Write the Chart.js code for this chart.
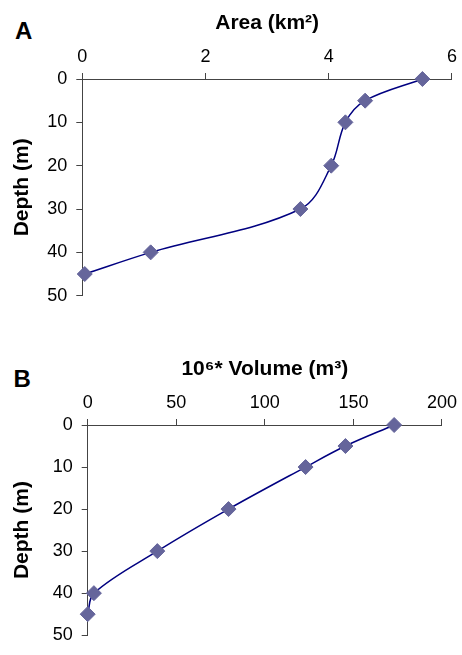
<!DOCTYPE html>
<html>
<head>
<meta charset="utf-8">
<script src="https://cdn.jsdelivr.net/npm/chart.js@4/dist/chart.umd.min.js"></script>
<style>
  body { margin: 0; background: #fff; width: 462px; height: 655px; position: relative; overflow: hidden; }
  canvas { position: absolute; left: 0; }
  #cA { top: 0; }
  #cB { top: 330px; }
  .panel { position: absolute; font: bold 24px "Liberation Sans", Arial, sans-serif; line-height: 1; color: #000; }
</style>
</head>
<body>
<div class="panel" style="left:15px; top:18.6px">A</div>
<div class="panel" style="left:13.5px; top:367px">B</div>
<canvas id="cA" width="462" height="320"></canvas>
<canvas id="cB" width="462" height="325"></canvas>
<script>
// depth of each survey level (m)
const depth = [0, 5, 10, 20, 30, 40, 45];
// lake area at each depth (km2)
const area = [5.52, 4.59, 4.27, 4.04, 3.54, 1.11, 0.04];
// volume below each depth (10^6 m3)
const volume = [173, 145.5, 123, 79.5, 39.3, 3.5, 0];

const depthTicks = [0, 50, 10];   // min, max, step
const areaTicks = [0, 6, 2];
const volumeTicks = [0, 200, 50];

Chart.defaults.font.family = '"Liberation Sans", Arial, sans-serif';
Chart.defaults.color = '#000';

const axisCol = '#444';

function makeChart(id, xs, xt, xTitle, box) {
  const pts = xs.map((v, i) => ({ x: v, y: depth[i] }));
  return new Chart(document.getElementById(id), {
    type: 'scatter',
    data: {
      datasets: [{
        data: pts,
        showLine: true,
        tension: 0.35,
        borderColor: '#000080',
        borderWidth: 1.5,
        pointStyle: 'rectRot',
        pointRadius: 7.5,
        pointBackgroundColor: '#65659b',
        pointBorderColor: '#65659b',
        pointBorderWidth: 1,
        clip: false
      }]
    },
    options: {
      responsive: false,
      animation: false,
      events: [],
      layout: { autoPadding: false, padding: box.pad },
      plugins: { legend: { display: false }, tooltip: { enabled: false } },
      scales: {
        x: {
          type: 'linear',
          position: 'top',
          min: xt[0], max: xt[1],
          ticks: { stepSize: xt[2], font: { size: 18 }, padding: 5 },
          grid: { drawOnChartArea: false, drawTicks: true, tickLength: 6, color: axisCol },
          border: { display: true, color: axisCol, width: 1 },
          title: { display: true, text: xTitle, font: { size: 21, weight: 'bold' }, padding: { top: box.titleTop, bottom: 0 } },
          afterFit: s => { s.height = box.xh; }
        },
        y: {
          type: 'linear',
          position: 'left',
          reverse: true,
          min: depthTicks[0], max: depthTicks[1],
          ticks: { stepSize: depthTicks[2], font: { size: 18 }, padding: 9 },
          grid: { drawOnChartArea: false, drawTicks: true, tickLength: 6, color: axisCol },
          border: { display: true, color: axisCol, width: 1 },
          title: { display: true, text: 'Depth (m)', font: { size: 21, weight: 'bold' }, padding: { top: 9.4, bottom: 0 } },
          afterFit: s => { s.width = box.yw; }
        }
      }
    }
  });
}

makeChart('cA', area, areaTicks, 'Area (km²)',
  { pad: { left: 0, top: 0, right: 4.7, bottom: 24.3 }, xh: 79, yw: 82.3, titleTop: 10.4 });
makeChart('cB', volume, volumeTicks, '10⁶* Volume (m³)',
  { pad: { left: 0, top: 0, right: 16, bottom: 10.7 }, xh: 95, yw: 87.7, titleTop: 26.9 });
</script>
</body>
</html>
